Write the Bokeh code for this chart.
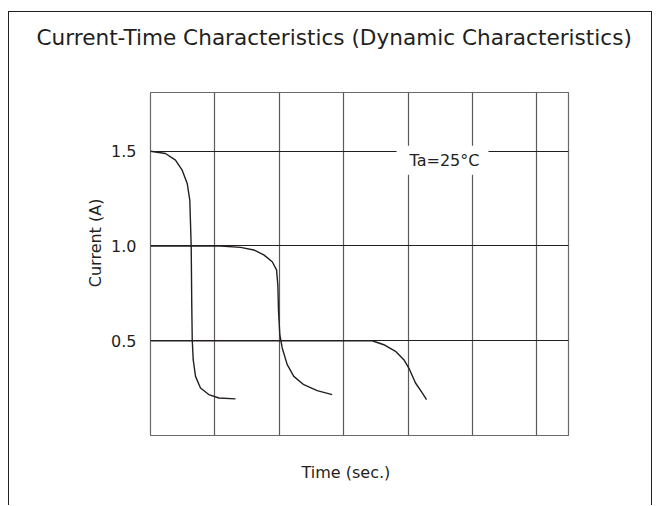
from bokeh.plotting import figure
from bokeh.models import Label, FixedTicker, Range1d, CustomJSTickFormatter, Title
from bokeh.embed import file_html
from bokeh.resources import INLINE

# ---- data ----
curve_15_t = [0.0, 0.233, 0.388, 0.492, 0.570, 0.610, 0.621, 0.632, 0.641, 0.648, 0.663, 0.699, 0.776, 0.905, 1.061, 1.320]
curve_15_i = [1.50, 1.488, 1.453, 1.400, 1.330, 1.242, 1.121, 0.996, 0.681, 0.505, 0.400, 0.312, 0.251, 0.216, 0.198, 0.193]

curve_10_t = [0.0, 1.087, 1.398, 1.604, 1.759, 1.890, 1.957, 1.977, 1.988, 2.008, 2.045, 2.123, 2.225, 2.380, 2.588, 2.821]
curve_10_i = [1.00, 1.00, 0.993, 0.979, 0.953, 0.917, 0.874, 0.795, 0.654, 0.532, 0.462, 0.374, 0.312, 0.268, 0.237, 0.216]

curve_05_t = [0.0, 3.443, 3.623, 3.804, 3.933, 4.011, 4.115, 4.219, 4.286]
curve_05_i = [0.50, 0.50, 0.479, 0.444, 0.400, 0.356, 0.277, 0.225, 0.189]

y_ticks = [0.5, 1.0, 1.5]
x_grid = [1, 2, 3, 4, 5, 6]

title_text = "Current-Time Characteristics (Dynamic Characteristics)"
x_label = "Time (sec.)"
y_label = "Current  (A)"
note_text = "Ta=25°C"

INK = "#231f20"
FONT = "DejaVu Sans"

p = figure(width=644, height=494, output_backend="svg", toolbar_location=None,
           x_range=Range1d(0, 6.49), y_range=Range1d(0, 1.81),
           min_border_left=141, min_border_right=85, min_border_top=80, min_border_bottom=70)
p.styles = {"border-top": "1px solid " + INK, "border-left": "1px solid " + INK,
            "border-right": "1px solid " + INK, "margin-top": "11px", "margin-left": "8px"}

p.background_fill_color = "white"
p.border_fill_color = "white"
p.outline_line_color = "#6d6868"
p.outline_line_width = 1.2

# the default bottom axis carries no labels in the reference
main_xaxis = p.below[0]
main_xaxis.visible = False

# title, lifted well above the frame by bottom padding
p.add_layout(Title(text=title_text, text_font=FONT, text_font_size="21.6px", text_font_style="normal",
                   text_color=INK, align="left", offset=-114, standoff=0,
                   padding=dict(left=0, right=0, top=0, bottom=43)), "above")

p.xgrid.ticker = FixedTicker(ticks=x_grid)
p.xgrid.grid_line_color = "#5e5959"
p.xgrid.grid_line_width = 1.2

p.yaxis.ticker = FixedTicker(ticks=y_ticks)
p.yaxis.formatter = CustomJSTickFormatter(code="return tick.toFixed(1);")
p.yaxis.axis_line_color = None
p.yaxis.major_tick_line_color = None
p.yaxis.minor_tick_line_color = None
p.yaxis.major_label_standoff = 8
p.yaxis.major_label_text_font = FONT
p.yaxis.major_label_text_font_size = "16px"
p.yaxis.major_label_text_color = INK
p.ygrid.ticker = FixedTicker(ticks=y_ticks)
p.ygrid.grid_line_color = INK
p.ygrid.grid_line_width = 1.2

for t, i in [(curve_15_t, curve_15_i), (curve_10_t, curve_10_i), (curve_05_t, curve_05_i)]:
    p.line(t, i, line_color=INK, line_width=1.4)

p.add_layout(Title(text=x_label, text_font=FONT, text_font_size="16px", text_font_style="normal",
                   text_color=INK, align="left", offset=151, standoff=50), "below")
p.add_layout(Title(text=y_label, text_font=FONT, text_font_size="16px", text_font_style="normal",
                   text_color=INK, align="right", offset=101, standoff=8), "left")

p.add_layout(Label(x=4.534, y=1.453, text=note_text, text_font=FONT, text_font_size="16px",
                   text_color=INK, text_align="center", text_baseline="middle",
                   background_fill_color="white",
                   padding=dict(left=13, right=9, top=5, bottom=5)))

open("out.html", "w").write(file_html(p, INLINE))
